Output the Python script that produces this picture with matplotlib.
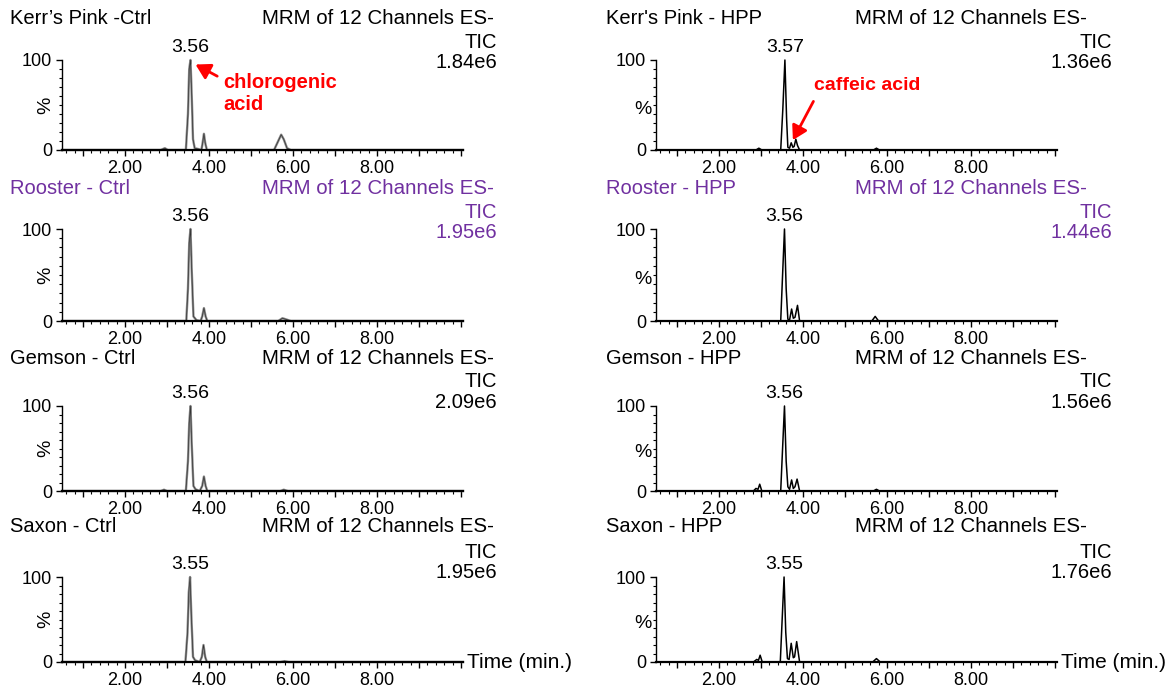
import matplotlib
matplotlib.use('Agg')
import matplotlib.pyplot as plt
from matplotlib.ticker import FixedLocator, MultipleLocator, FixedFormatter

plt.rcParams['font.family'] = ['Liberation Sans', 'DejaVu Sans']

# sample names / header values
ctrl_titles = ['Kerr\u2019s Pink -Ctrl', 'Rooster - Ctrl', 'Gemson - Ctrl', 'Saxon - Ctrl']
hpp_titles = ["Kerr's Pink - HPP", 'Rooster - HPP', 'Gemson - HPP', 'Saxon - HPP']
ctrl_tic = ['1.84e6', '1.95e6', '2.09e6', '1.95e6']
hpp_tic = ['1.36e6', '1.44e6', '1.56e6', '1.76e6']
ctrl_rt = [3.56, 3.56, 3.56, 3.55]
hpp_rt = [3.57, 3.56, 3.56, 3.55]

# traces (time in min, % of base peak)
kp_ctrl_t = [0.5, 2.85, 2.95, 3.02, 3.10, 3.45, 3.50, 3.53, 3.56, 3.59, 3.62, 3.66, 3.75, 3.82, 3.85, 3.88, 3.91, 3.95, 4.2,
             5.55, 5.65, 5.72, 5.78, 5.86, 5.95, 10.05]
kp_ctrl_y = [0, 0, 2, 0, 0, 0, 40, 90, 100, 60, 12, 2, 1, 0, 8, 18, 8, 0, 0, 0, 10, 17, 12, 2, 0, 0]
ro_ctrl_t = [0.5, 3.46, 3.50, 3.53, 3.56, 3.59, 3.63, 3.70, 3.80, 3.84, 3.88, 3.92, 3.96, 5.65, 5.75, 5.82, 5.95, 10.05]
ro_ctrl_y = [0, 0, 35, 85, 100, 55, 5, 1, 0, 5, 14, 5, 0, 0, 3, 2, 0, 0]
ge_ctrl_t = [0.5, 2.85, 2.93, 3.0, 3.45, 3.50, 3.53, 3.56, 3.59, 3.63, 3.68, 3.78, 3.84, 3.88, 3.92, 3.96, 5.7, 5.78, 5.88, 10.05]
ge_ctrl_y = [0, 0, 1.5, 0, 0, 35, 80, 100, 55, 6, 2, 0, 6, 17, 6, 0, 0, 1.5, 0, 0]
sa_ctrl_t = [0.5, 3.44, 3.49, 3.52, 3.55, 3.58, 3.62, 3.67, 3.78, 3.83, 3.87, 3.91, 3.95, 5.7, 5.8, 5.9, 10.05]
sa_ctrl_y = [0, 0, 35, 82, 100, 55, 6, 2, 0, 6, 20, 6, 0, 0, 1, 0, 0]

kp_hpp_t = [0.5, 2.88, 2.95, 3.02, 3.47, 3.52, 3.57, 3.61, 3.64, 3.68, 3.72, 3.76, 3.79, 3.83, 3.87, 3.92, 5.68, 5.75, 5.82, 10.05]
kp_hpp_y = [0, 0, 2, 0, 0, 45, 100, 35, 3, 2, 8, 3, 4, 12, 5, 0, 0, 2, 0, 0]
ro_hpp_t = [0.5, 3.47, 3.51, 3.56, 3.60, 3.64, 3.68, 3.73, 3.77, 3.81, 3.87, 3.92, 5.64, 5.72, 5.80, 10.05]
ro_hpp_y = [0, 0, 45, 100, 35, 2, 1, 13, 3, 4, 17, 0, 0, 5, 0, 0]
ge_hpp_t = [0.5, 2.82, 2.88, 2.93, 2.97, 3.02, 3.47, 3.51, 3.56, 3.60, 3.64, 3.68, 3.73, 3.77, 3.81, 3.86, 3.92, 5.68, 5.75, 5.82, 10.05]
ge_hpp_y = [0, 0, 3, 2, 8, 0, 0, 45, 100, 35, 5, 2, 13, 3, 5, 14, 0, 0, 2, 0, 0]
sa_hpp_t = [0.5, 2.82, 2.90, 2.94, 2.98, 3.03, 3.46, 3.50, 3.55, 3.59, 3.63, 3.67, 3.72, 3.77, 3.80, 3.85, 3.92, 5.66, 5.75, 5.84, 10.05]
sa_hpp_y = [0, 0, 3, 2, 8, 0, 0, 45, 100, 35, 4, 3, 22, 5, 6, 24, 0, 0, 4, 0, 0]

ctrl_traces = [(kp_ctrl_t, kp_ctrl_y), (ro_ctrl_t, ro_ctrl_y), (ge_ctrl_t, ge_ctrl_y), (sa_ctrl_t, sa_ctrl_y)]
hpp_traces = [(kp_hpp_t, kp_hpp_y), (ro_hpp_t, ro_hpp_y), (ge_hpp_t, ge_hpp_y), (sa_hpp_t, sa_hpp_y)]

W, H = 1169, 690
PURPLE = '#7030a0'

# layout in pixels
col_x0 = [62, 656]
col_w = 401
col_title = [10, 606]
col_hdr = [262, 855]
col_right = [497, 1112]
row_top = [60, 229, 406, 577]
row_base = [150, 321, 491, 662]
title_y = [18, 188, 358, 527]
tic_y = [43, 212, 382, 552]
val_y = [63, 232, 402, 572]

fig = plt.figure(figsize=(W / 100, H / 100), dpi=100)


def px(x, y):
    return x / W, 1 - y / H


axes = {}
for c in range(2):
    titles = ctrl_titles if c == 0 else hpp_titles
    tics = ctrl_tic if c == 0 else hpp_tic
    rts = ctrl_rt if c == 0 else hpp_rt
    traces = ctrl_traces if c == 0 else hpp_traces
    for r in range(4):
        ax = fig.add_axes([col_x0[c] / W, 1 - row_base[r] / H, col_w / W, (row_base[r] - row_top[r]) / H])
        axes[(r, c)] = ax
        t, y = traces[r]
        if c == 0:
            ax.plot(t, y, color='#8a8a8a', lw=1.7, clip_on=False)
            ax.plot(t, y, color='#333333', lw=0.5, clip_on=False)
        else:
            ax.plot(t, y, color='black', lw=1.1, clip_on=False)
        ax.set_xlim(0.5, 10.05)
        ax.set_ylim(0, 100)
        for s in ['top', 'right']:
            ax.spines[s].set_visible(False)
        ax.spines['left'].set_linewidth(1.0)
        ax.spines['bottom'].set_linewidth(1.6)
        ax.xaxis.set_major_locator(FixedLocator([1, 2, 3, 4, 5, 6, 7, 8, 9, 10]))
        ax.xaxis.set_major_formatter(FixedFormatter(['', '2.00', '', '4.00', '', '6.00', '', '8.00', '', '']))
        ax.xaxis.set_minor_locator(MultipleLocator(0.2))
        ax.yaxis.set_major_locator(FixedLocator([0, 100]))
        ax.yaxis.set_major_formatter(FixedFormatter(['0', '100']))
        ax.yaxis.set_minor_locator(MultipleLocator(10))
        ax.tick_params(which='major', direction='out', length=4, width=1, labelsize=13, pad=3)
        ax.tick_params(which='minor', direction='out', length=2.5, width=0.8)
        ax.tick_params(axis='x', which='major', pad=3)
        ax.patch.set_alpha(0)

        if c == 0:
            ax.text(-0.02, 0.5, '%', transform=ax.transAxes, rotation=90, ha='right', va='center', fontsize=14)
        else:
            ax.text(-0.012, 0.45, '%', transform=ax.transAxes, ha='right', va='center', fontsize=14)

        ax.annotate('%.2f' % rts[r], xy=(rts[r], 100), xytext=(0, 3), textcoords='offset points',
                    ha='center', va='bottom', fontsize=14)

        color = PURPLE if r == 1 else 'black'
        fig.text(*px(col_title[c], title_y[r]), titles[r],
                 ha='left', va='center', fontsize=14.5, color=color)
        fig.text(*px(col_hdr[c], title_y[r]), 'MRM of 12 Channels ES-',
                 ha='left', va='center', fontsize=14.8, color=color)
        fig.text(*px(col_right[c], tic_y[r]), 'TIC', ha='right', va='center', fontsize=14.5, color=color)
        fig.text(*px(col_right[c], val_y[r]), tics[r], ha='right', va='center', fontsize=14.5, color=color)

    axes[(3, c)].text(1.01, 0, 'Time (min.)', transform=axes[(3, c)].transAxes,
                      ha='left', va='center', fontsize=15)

# compound call-outs
axes[(0, 0)].annotate('chlorogenic\nacid', xy=(3.68, 95), xytext=(4.35, 85), ha='left', va='top',
                      fontsize=14.5, fontweight='bold', color='red', linespacing=1.2,
                      arrowprops=dict(arrowstyle='-|>,head_width=0.35,head_length=0.6', color='red', lw=2,
                                      relpos=(0, 0.85), shrinkA=3, shrinkB=0))
axes[(0, 1)].annotate('caffeic acid', xy=(3.76, 11), xytext=(4.27, 72), ha='left', va='center',
                      fontsize=14, fontweight='bold', color='red',
                      arrowprops=dict(arrowstyle='-|>,head_width=0.35,head_length=0.6', color='red', lw=2,
                                      relpos=(0.03, 0), shrinkA=4, shrinkB=0))

fig.savefig('out.png', dpi=100)
